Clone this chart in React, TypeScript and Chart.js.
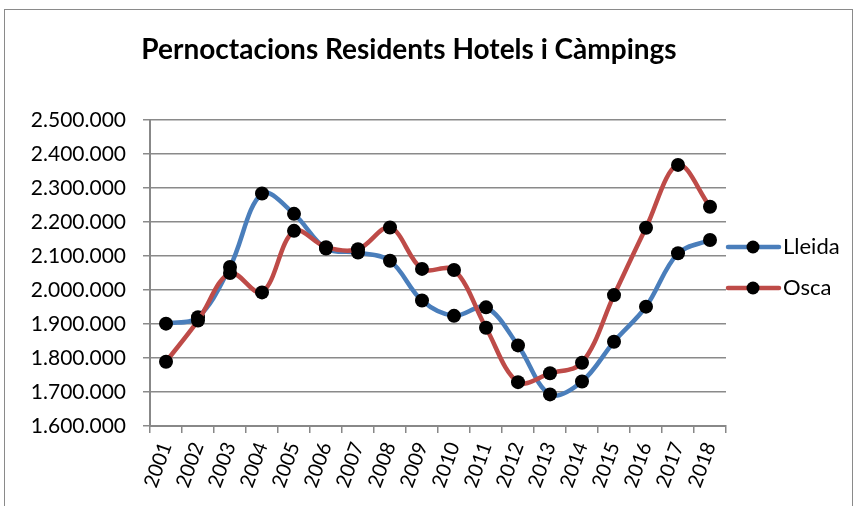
import React, { useEffect, useRef } from "react";
import { Chart, registerables } from "chart.js";

Chart.register(...registerables);

const years = ["2001","2002","2003","2004","2005","2006","2007","2008","2009","2010","2011","2012","2013","2014","2015","2016","2017","2018"];
const lleida = [1901000,1920000,2068000,2284000,2224000,2122000,2110000,2086000,1969000,1924000,1949000,1837000,1693000,1731000,1848000,1951000,2108000,2147000];
const osca = [1789000,1910000,2050000,1993000,2174000,2126000,2120000,2184000,2062000,2059000,1889000,1729000,1755000,1786000,1985000,2183000,2368000,2245000];
const titleText = "Pernoctacions Residents Hotels i Càmpings";
const seriesNames = ["Lleida", "Osca"];
const colors = ["#4A7EBB", "#BE4B48"];

const FONT = "Lato, 'Open Sans', sans-serif";

function fmt(v: number) {
  return Math.round(v).toString().replace(/\B(?=(\d{3})+(?!\d))/g, ".");
}

const overlay = {
  id: "overlay",
  afterDraw(chart: any) {
    const ctx = chart.ctx;
    const area = chart.chartArea;
    ctx.save();
    ctx.fillStyle = "#000";
    ctx.font = `bold 28px ${FONT}`;
    ctx.textAlign = "center";
    ctx.textBaseline = "alphabetic";
    ctx.fillText(titleText, 409, 59);
    // legend
    const ys = [247, 288];
    ctx.font = `22px ${FONT}`;
    ctx.textAlign = "left";
    ctx.textBaseline = "middle";
    seriesNames.forEach((n, i) => {
      const y = ys[i];
      ctx.strokeStyle = colors[i];
      ctx.lineWidth = 4.5;
      ctx.lineCap = "round";
      ctx.beginPath();
      ctx.moveTo(area.right + 2, y);
      ctx.lineTo(area.right + 53, y);
      ctx.stroke();
      ctx.fillStyle = "#000";
      ctx.beginPath();
      ctx.arc(area.right + 27, y, 6.5, 0, Math.PI * 2);
      ctx.fill();
      ctx.fillText(n, area.right + 57, y);
    });
    ctx.restore();
  },
};

export default function App() {
  const ref = useRef<HTMLCanvasElement>(null);
  useEffect(() => {
    const chart = new Chart(ref.current!, {
      type: "line",
      data: {
        labels: years,
        datasets: [
          {
            label: seriesNames[0],
            data: lleida,
            borderColor: colors[0],
            backgroundColor: "#000",
            borderWidth: 4.5,
            tension: 0.35,
            pointRadius: 7,
            pointBackgroundColor: "#000",
            pointBorderColor: "#000",
            pointBorderWidth: 0,
            order: 1,
          },
          {
            label: seriesNames[1],
            data: osca,
            borderColor: colors[1],
            backgroundColor: "#000",
            borderWidth: 4.5,
            tension: 0.35,
            pointRadius: 7,
            pointBackgroundColor: "#000",
            pointBorderColor: "#000",
            pointBorderWidth: 0,
            order: 0,
          },
        ],
      },
      options: {
        animation: false,
        responsive: false,
        layout: { padding: { top: 120, right: 129, left: 0, bottom: 0 } },
        plugins: {
          legend: { display: false },
          title: { display: false },
          tooltip: { enabled: false },
        },
        scales: {
          x: {
            offset: true,
            afterFit: (s: any) => { s.height = 80; },
            grid: { drawOnChartArea: false, offset: true, tickLength: 7, color: "#888", lineWidth: 1.5 },
            border: { color: "#888", width: 2 },
            ticks: {
              color: "#000",
              font: { family: FONT, size: 20 },
              minRotation: 70,
              maxRotation: 70,
              autoSkip: false,
              padding: 6,
            },
          },
          y: {
            min: 1600000,
            max: 2500000,
            afterFit: (s: any) => { s.width = 150; },
            grid: { color: "#8a8a8a", lineWidth: 1.5, tickLength: 7 },
            border: { color: "#888", width: 2 },
            ticks: {
              stepSize: 100000,
              color: "#000",
              font: { family: FONT, size: 21 },
              padding: 17,
              callback: (v: any) => fmt(Number(v)),
            },
          },
        },
      },
      plugins: [overlay],
    });
    return () => chart.destroy();
  }, []);
  return (
    <div style={{ position: "fixed", left: 0, top: 0, width: 855, height: 506, background: "#fff" }}>
      <div style={{ position: "absolute", left: 4, top: 9, width: 847, height: 520, border: "1px solid #8a8a8a" }} />
      <canvas ref={ref} width={855} height={506} style={{ position: "absolute", left: 0, top: 0 }} />
    </div>
  );
}
